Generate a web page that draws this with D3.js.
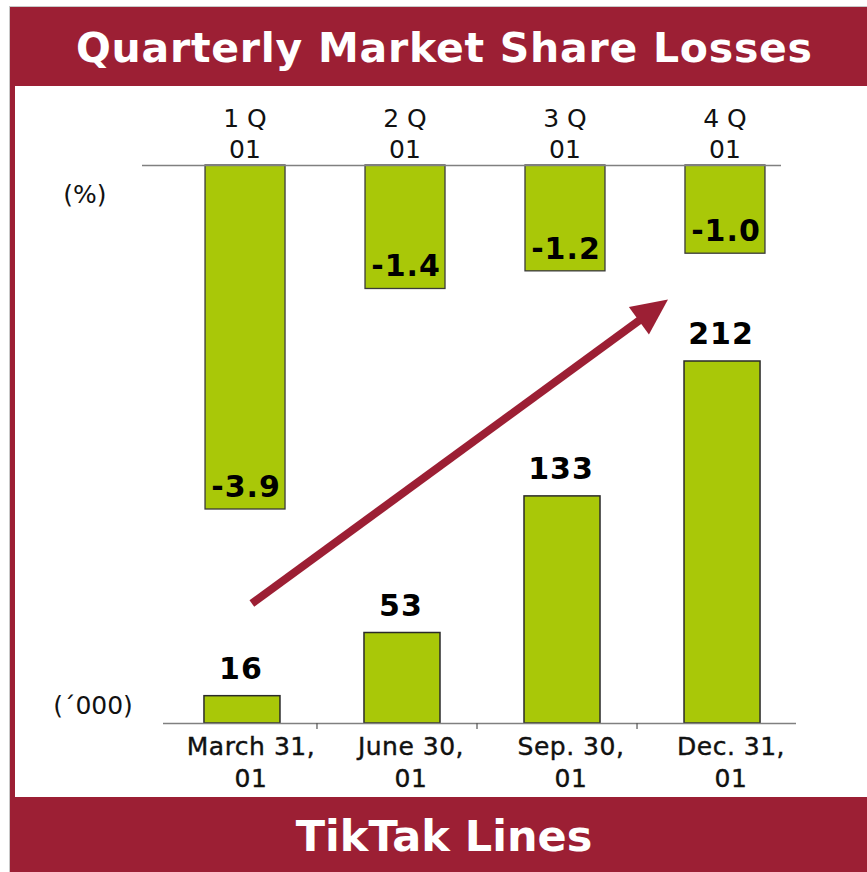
<!DOCTYPE html>
<html>
<head>
<meta charset="utf-8">
<script src="https://cdn.jsdelivr.net/npm/d3@7"></script>
<style>
  html, body { margin: 0; padding: 0; background: #fff; }
  svg { display: block; }
</style>
</head>
<body>
<svg id="chart"></svg>
<script>
// data
var quarters = ['1 Q|01', '2 Q|01', '3 Q|01', '4 Q|01'];
var shareLoss = [-3.9, -1.4, -1.2, -1.0];
var dates = ['March 31,|01', 'June 30,|01', 'Sep. 30,|01', 'Dec. 31,|01'];
var lines = [16, 53, 133, 212];

var W = 867, H = 872;
var maroon = '#9c1f34', green = '#a9c808';
var font = 'DejaVu Sans, Verdana, sans-serif';

var svg = d3.select('#chart').attr('width', W).attr('height', H);

// frame: thin grey edge, maroon bands top / left / bottom
svg.append('rect').attr('x', 9.5).attr('y', 6.5).attr('width', W).attr('height', H)
    .attr('fill', 'none').attr('stroke', '#c8c8c8');
svg.append('rect').attr('x', 10).attr('y', 7).attr('width', W - 10).attr('height', 79).attr('fill', maroon);
svg.append('rect').attr('x', 10).attr('y', 7).attr('width', 5).attr('height', H).attr('fill', maroon);
svg.append('rect').attr('x', 10).attr('y', 797).attr('width', W - 10).attr('height', H - 797).attr('fill', maroon);

svg.append('text').attr('x', 444).attr('y', 62)
    .attr('text-anchor', 'middle').attr('fill', '#fff')
    .attr('font-family', font).attr('font-size', 41).attr('font-weight', 'bold')
    .attr('textLength', 736).attr('lengthAdjust', 'spacing')
    .text('Quarterly Market Share Losses');

svg.append('text').attr('x', 444).attr('y', 851)
    .attr('text-anchor', 'middle').attr('fill', '#fff')
    .attr('font-family', font).attr('font-size', 43).attr('font-weight', 'bold')
    .text('TikTak Lines');

// scales
var xTop = d3.scaleBand().domain(quarters).range([142, 828]).paddingInner(0.5).paddingOuter(0.394);
var yTop = d3.scaleLinear().domain([0, -3.9]).range([165, 509]);
var xBot = d3.scaleBand().domain(dates).range([163, 801]).paddingInner(0.525).paddingOuter(0.256);
var yBot = d3.scaleLinear().domain([0, 212]).range([723, 361]);

// ---- upper chart: market share losses (%)
var gTop = svg.append('g');
gTop.selectAll('rect').data(shareLoss).enter().append('rect')
    .attr('x', (d, i) => xTop(quarters[i]))
    .attr('y', yTop(0))
    .attr('width', xTop.bandwidth())
    .attr('height', d => yTop(d) - yTop(0))
    .attr('fill', green).attr('stroke', '#3a3a3a').attr('stroke-width', 1.3);

gTop.append('line').attr('x1', 142).attr('x2', 781).attr('y1', 165.5).attr('y2', 165.5)
    .attr('stroke', '#808080').attr('stroke-width', 1.3);

gTop.selectAll('text.val').data(shareLoss).enter().append('text')
    .attr('class', 'val')
    .attr('x', (d, i) => xTop(quarters[i]) + xTop.bandwidth() / 2 + 1)
    .attr('y', d => yTop(d) - 12)
    .attr('text-anchor', 'middle')
    .attr('font-family', font).attr('font-size', 30).attr('font-weight', 'bold')
    .attr('letter-spacing', 1)
    .text(d => d.toFixed(1));

quarters.forEach(function(q, i) {
    var parts = q.split('|');
    var t = gTop.append('text')
        .attr('text-anchor', 'middle')
        .attr('font-family', font).attr('font-size', 25).attr('fill', '#111');
    parts.forEach(function(p, j) {
        t.append('tspan').attr('x', xTop(q) + xTop.bandwidth() / 2).attr('y', 127 + j * 31).text(p);
    });
});

svg.append('text').attr('x', 85).attr('y', 203).attr('text-anchor', 'middle')
    .attr('font-family', font).attr('font-size', 25).attr('fill', '#111').text('(%)');

// ---- lower chart: lines ('000)
var gBot = svg.append('g');
gBot.selectAll('rect').data(lines).enter().append('rect')
    .attr('x', (d, i) => xBot(dates[i]))
    .attr('y', d => yBot(d))
    .attr('width', xBot.bandwidth())
    .attr('height', d => yBot(0) - yBot(d))
    .attr('fill', green).attr('stroke', '#2a2a2a').attr('stroke-width', 1.5);

gBot.append('line').attr('x1', 163).attr('x2', 796).attr('y1', 723.5).attr('y2', 723.5)
    .attr('stroke', '#808080').attr('stroke-width', 1.3);

// ticks between the categories
gBot.selectAll('line.tick').data(dates.slice(1)).enter().append('line')
    .attr('class', 'tick')
    .attr('x1', d => xBot(d) - xBot.step() * xBot.paddingInner() / 2 - 5)
    .attr('x2', d => xBot(d) - xBot.step() * xBot.paddingInner() / 2 - 5)
    .attr('y1', 723).attr('y2', 729)
    .attr('stroke', '#555').attr('stroke-width', 1.2);

gBot.selectAll('text.val').data(lines).enter().append('text')
    .attr('class', 'val')
    .attr('x', (d, i) => xBot(dates[i]) + xBot.bandwidth() / 2 - 1)
    .attr('y', d => yBot(d) - 17)
    .attr('text-anchor', 'middle')
    .attr('font-family', font).attr('font-size', 30).attr('font-weight', 'bold')
    .attr('letter-spacing', 1)
    .text(d => d);

dates.forEach(function(q, i) {
    var parts = q.split('|');
    var t = gBot.append('text')
        .attr('text-anchor', 'middle')
        .attr('font-family', font).attr('font-size', 25).attr('fill', '#111')
        .attr('stroke', '#111').attr('stroke-width', 0.4)
        .attr('letter-spacing', 0.5);
    parts.forEach(function(p, j) {
        t.append('tspan').attr('x', xBot(q) + xBot.bandwidth() / 2 + 9).attr('y', 755 + j * 32).text(p);
    });
});

svg.append('text').attr('x', 93).attr('y', 714).attr('text-anchor', 'middle')
    .attr('font-family', font).attr('font-size', 25).attr('fill', '#111').text('(\u00b4000)');

// trend arrow from the first lower bar up to the last upper bar
var x1 = xBot(dates[0]) + xBot.bandwidth() * 0.63, y1 = yBot(70);
var x2 = xTop(quarters[3]) - 17, y2 = yBot(248);
var dx = x2 - x1, dy = y2 - y1, len = Math.sqrt(dx * dx + dy * dy);
var ux = dx / len, uy = dy / len;
var headLen = 36, headHalf = 17;
var bx = x2 - ux * headLen, by = y2 - uy * headLen;

svg.append('line').attr('x1', x1).attr('y1', y1).attr('x2', bx + ux * 2).attr('y2', by + uy * 2)
    .attr('stroke', maroon).attr('stroke-width', 8);
svg.append('polygon')
    .attr('points', [[x2, y2], [bx - uy * headHalf, by + ux * headHalf], [bx + uy * headHalf, by - ux * headHalf]]
        .map(p => p.join(',')).join(' '))
    .attr('fill', maroon);
</script>
</body>
</html>
